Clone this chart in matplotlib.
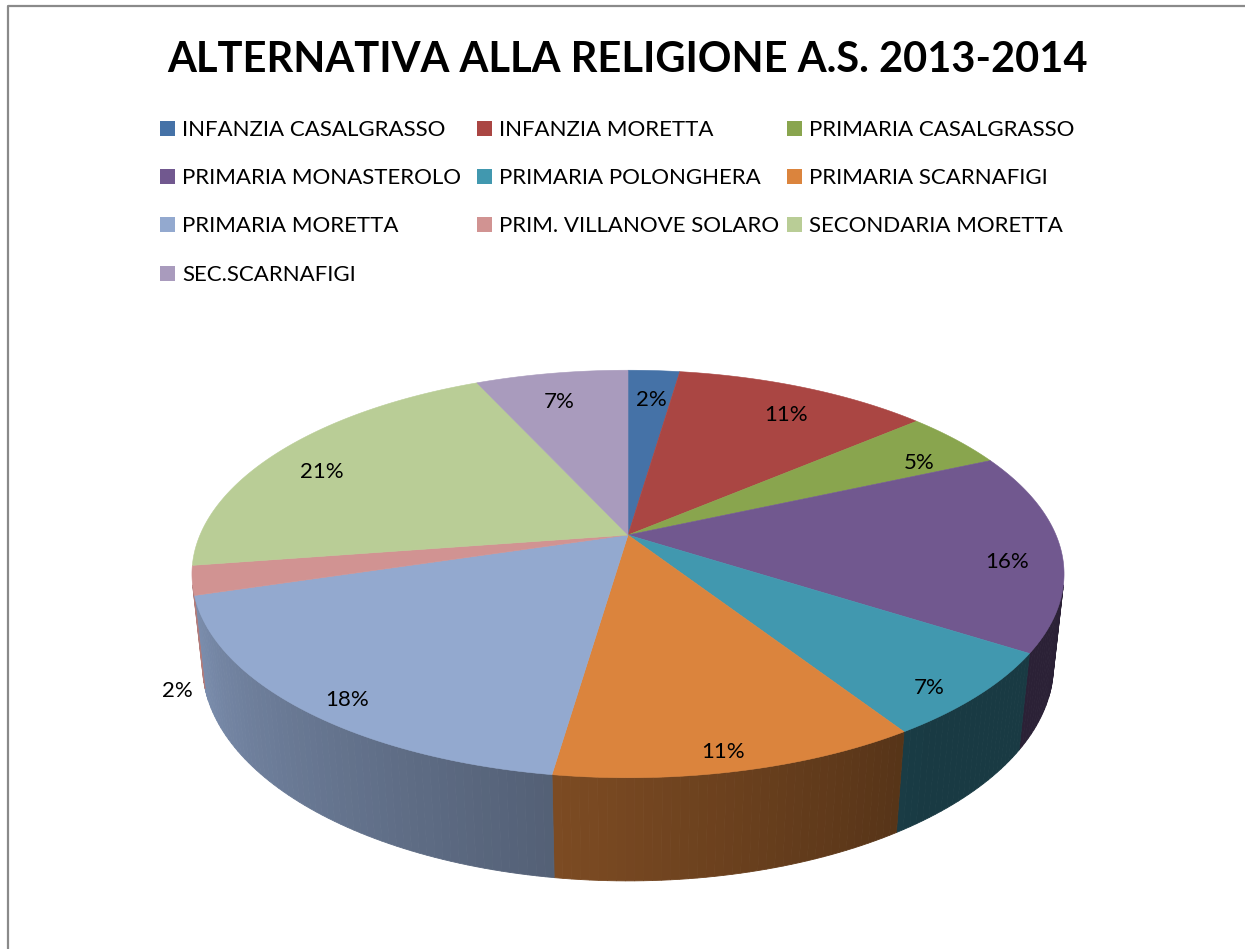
import numpy as np
import matplotlib
matplotlib.use("Agg")
import matplotlib.pyplot as plt
from matplotlib.patches import Polygon, Rectangle

plt.rcParams["font.family"] = ["Lato", "DejaVu Sans"]

TITLE = "ALTERNATIVA ALLA RELIGIONE A.S. 2013-2014"
SCHOOLS = [
    "INFANZIA CASALGRASSO", "INFANZIA MORETTA", "PRIMARIA CASALGRASSO",
    "PRIMARIA MONASTEROLO", "PRIMARIA POLONGHERA", "PRIMARIA SCARNAFIGI",
    "PRIMARIA MORETTA", "PRIM. VILLANOVE SOLARO", "SECONDARIA MORETTA",
    "SEC.SCARNAFIGI",
]
# share of pupils in percent
SHARES = [2.3, 11.4, 4.6, 15.8, 6.8, 11.4, 18.0, 2.3, 20.6, 6.8]
COLORS = ["#4572A7", "#AA4643", "#89A54E", "#71588F", "#4198AF",
          "#DB843D", "#93A9CF", "#D19392", "#B9CD96", "#A99BBD"]

# fake 3D view of the pie (pixel space)
CX, CY = 628, 535
FOCAL, DIST = 1988, 4.645
ELEV = np.radians(27.3)
THICK = 0.241


def project(theta, r, z):
    s, c = np.sin(ELEV), np.cos(ELEV)
    x = r * np.sin(theta)
    y = r * np.cos(theta)
    d = DIST + y * c - z * s
    return CX + FOCAL * x / d, CY - FOCAL * (y * s + z * c) / d


def shade(hex_color, f):
    rgb = np.array(matplotlib.colors.to_rgb(hex_color))
    return tuple(np.clip(rgb * f, 0, 1))


fig = plt.figure(figsize=(12.45, 9.49), dpi=100)
ax = fig.add_axes([0, 0, 1, 1])
ax.set_xlim(0, 1245)
ax.set_ylim(949, 0)
ax.axis("off")

# chart frame
ax.plot([7.5, 7.5, 1245], [949, 5.5, 5.5], color="#8a8a8a", lw=1.6)

ax.text(627, 72, TITLE, ha="center", va="baseline", fontsize=30,
        fontweight="bold", color="black")

# legend, filled row by row like Excel
col_x = [160, 477, 787]
row_y = [121, 169, 217, 266]
for i, (name, col) in enumerate(zip(SCHOOLS, COLORS)):
    x0 = col_x[i % 3]
    y0 = row_y[i // 3]
    ax.add_patch(Rectangle((x0, y0), 15, 15, facecolor=col, edgecolor="none"))
    ax.text(x0 + 22, y0 + 15, name, ha="left", va="baseline", fontsize=16)

total = sum(SHARES)
bounds = 2 * np.pi * np.concatenate([[0], np.cumsum(SHARES)]) / total

# outer wall: only the front part faces the viewer
vis_lo = np.arccos(-1 / (DIST * np.cos(ELEV)))
vis_hi = 2 * np.pi - vis_lo
for k in range(len(SHARES)):
    a0 = max(bounds[k], vis_lo)
    a1 = min(bounds[k + 1], vis_hi)
    if a1 <= a0:
        continue
    n = max(2, int(np.degrees(a1 - a0)))
    ts = np.linspace(a0, a1, n + 1)
    for t0, t1 in zip(ts[:-1], ts[1:]):
        deg = np.degrees((t0 + t1) / 2)
        f = np.clip(0.40 + (deg - 148) * 0.0042, 0.38, 0.88)
        tt = np.array([t0, t1])
        xt, yt = project(tt, 1.0, 0.0)
        xb, yb = project(tt[::-1], 1.0, -THICK)
        pts = np.column_stack([np.r_[xt, xb], np.r_[yt, yb]])
        c = shade(COLORS[k], f)
        ax.add_patch(Polygon(pts, closed=True, facecolor=c, edgecolor=c, lw=0.6))

# top face
for k in range(len(SHARES)):
    ts = np.linspace(bounds[k], bounds[k + 1], 200)
    xs, ys = project(ts, 1.0, 0.0)
    pts = np.column_stack([np.r_[CX, xs], np.r_[CY, ys]])
    ax.add_patch(Polygon(pts, closed=True, facecolor=COLORS[k],
                         edgecolor=COLORS[k], lw=0.4))

# percentage labels
for k, val in enumerate(SHARES):
    mid = (bounds[k] + bounds[k + 1]) / 2
    share = val / total
    if share < 0.03 and np.cos(mid) < 0:
        lx, ly = project(mid, 1.06, -1.15 * THICK)
    else:
        lx, ly = project(mid, 0.88, -0.03)
    ax.text(lx, ly, f"{int(100 * share + 0.5)}%", ha="center",
            va="center_baseline", fontsize=16, color="black")

fig.savefig("out.png", dpi=100, facecolor="white")
